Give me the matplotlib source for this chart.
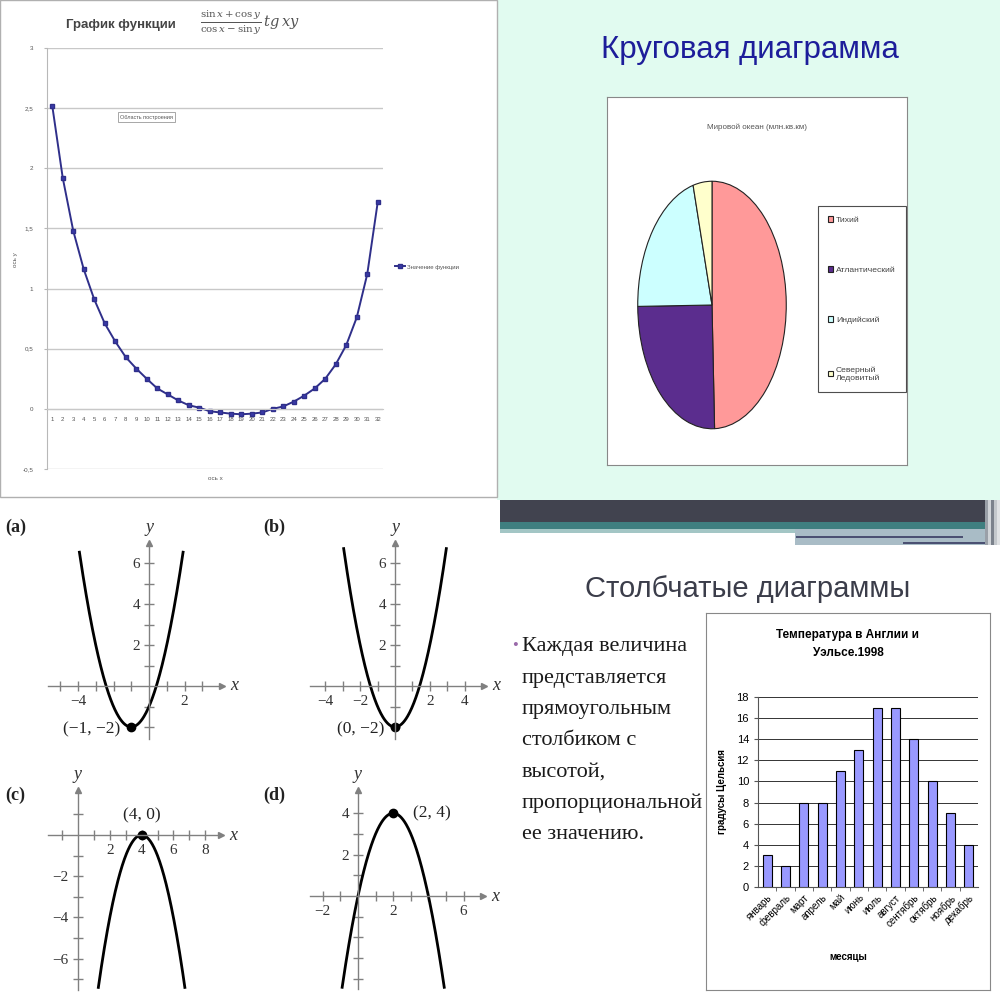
import numpy as np
import matplotlib.pyplot as plt
from matplotlib.patches import Rectangle
from matplotlib.lines import Line2D
from matplotlib.ticker import FixedLocator, FuncFormatter

# ---- data -------------------------------------------------------------
# top-left: "График функции" (Excel line chart, 32 points)
func_x = list(range(1, 33))
func_y = [2.52, 1.92, 1.48, 1.16, 0.91, 0.71, 0.56, 0.43, 0.335, 0.25,
          0.17, 0.12, 0.07, 0.03, 0.01, -0.02, -0.03, -0.04, -0.045, -0.04,
          -0.03, 0.0, 0.02, 0.06, 0.11, 0.17, 0.25, 0.37, 0.53, 0.76,
          1.12, 1.72]
func_yticks = [-0.5, 0, 0.5, 1, 1.5, 2, 2.5, 3]
func_yticklabels = ['-0,5', '0', '0,5', '1', '1,5', '2', '2,5', '3']

# top-right: pie "Мировой океан (млн.кв.км)"
ocean_names = ['Тихий', 'Атлантический', 'Индийский', 'Северный\nЛедовитый']
ocean_area = [178.7, 91.7, 76.2, 14.8]
ocean_colors = ['#ff9999', '#5b2d8e', '#ccffff', '#ffffcc']

# bottom-right: bar chart
months = ['январь', 'февраль', 'март', 'апрель', 'май', 'июнь', 'июль',
          'август', 'сентябрь', 'октябрь', 'ноябрь', 'декабрь']
temps = [3, 2, 8, 8, 11, 13, 17, 17, 14, 10, 7, 4]

# bottom-left: four parabolas y = lead * (x - vx)^2 + vy
par_names = ['(a)', '(b)', '(c)', '(d)']
par_vertex_x = [-1, 0, 4, 2]
par_vertex_y = [-2, -2, 0, 4]
par_lead = [1, 1, -1, -1]
par_half = [2.92, 2.95, 2.72, 2.9]
par_vertex_text = ['(−1, −2)', '(0, −2)', '(4, 0)', '(2, 4)']
par_xticklabels = [[-4, 2], [-4, -2, 2, 4], [2, 4, 6, 8], [-2, 2, 6]]
par_yticklabels = [[2, 4, 6], [2, 4, 6], [-6, -4, -2], [2, 4]]

bullet_lines = ['Каждая величина', 'представляется', 'прямоугольным',
                'столбиком с', 'высотой,', 'пропорциональной', 'ее значению.']

# ---- layout helpers (pixel coords, origin top-left) -------------------
W = H = 1000


def px_box(left, top, width, height):
    return [left / W, 1 - (top + height) / H, width / W, height / H]


def fx(x):
    return x / W


def fy(y):
    return 1 - y / H


fig = plt.figure(figsize=(10, 10), dpi=100)


def rect(left, top, width, height, **kw):
    fig.add_artist(Rectangle((fx(left), fy(top + height)), width / W, height / H,
                             transform=fig.transFigure, zorder=-10, **kw))


# backgrounds
rect(497, 0, 503, 500, color='#e1fbf0', lw=0)
rect(0, 0, 497, 497, facecolor='white', edgecolor='#b0b0b0', lw=1)
rect(500, 500, 500, 22, color='#41434f', lw=0)
rect(500, 522, 485, 7, color='#3f7f80', lw=0)
rect(500, 529, 295, 4, color='#a3c6c5', lw=0)
rect(795, 529, 195, 16, color='#a9bcc6', lw=0)
rect(796, 536, 167, 2, color='#4b5072', lw=0)
rect(903, 542, 87, 2, color='#4b5072', lw=0)
for i, c in enumerate(['#9aa0a8', '#d0d4d8', '#7c828c', '#c4c8cc', '#e0e2e4']):
    rect(985 + 3 * i, 500, 3, 45, color=c, lw=0)

# ---- top-left: function chart ----------------------------------------
sans = 'Liberation Sans'
ax1 = fig.add_axes(px_box(47, 48, 336, 421))
ax1.patch.set_alpha(0)
for s in ['top', 'right']:
    ax1.spines[s].set_visible(False)
ax1.spines['left'].set_color('#b8b8b8')
ax1.spines['bottom'].set_position(('data', 0))
ax1.spines['bottom'].set_color('#c8c8c8')
ax1.plot(func_x, func_y, color='#2f2f8a', lw=1.4, marker='s', ms=3.2,
         mfc='#3a3aa8', mec='#2f2f8a')
ax1.set_xlim(0.5, 32.5)
ax1.set_ylim(-0.5, 3)
ax1.set_yticks(func_yticks, func_yticklabels)
ax1.set_xticks(func_x, [str(v) for v in func_x])
ax1.tick_params(axis='x', length=0, pad=6, labelsize=4.3, labelcolor='#555555')
ax1.tick_params(axis='y', length=2, color='#b8b8b8', pad=8, labelsize=4.5,
                labelcolor='#555555')
for lab in ax1.get_xticklabels() + ax1.get_yticklabels():
    lab.set_family(sans)
ax1.grid(axis='y', color='#c8c8c8', lw=1)
ax1.set_axisbelow(True)
fig.text(fx(15), fy(260), 'ось y', rotation=90, fontsize=4.5, color='#555555',
         ha='center', va='center', family=sans)
fig.text(fx(215), fy(478), 'ось x', fontsize=4.5, color='#555555',
         ha='center', va='center', family=sans)
fig.text(fx(66), fy(25), 'График функции', fontsize=9.5, fontweight='bold',
         color='#444444', ha='left', va='center', family=sans)
fig.text(fx(200), fy(22), r'$\frac{\sin x + \cos y}{\cos x - \sin y}\,\mathit{tg}\,xy$',
         fontsize=10.5, color='#555555', ha='left', va='center',
         math_fontfamily='dejavuserif')
fig.text(fx(120), fy(117), 'Область построения', fontsize=4, color='#555555',
         ha='left', va='center', family=sans,
         bbox=dict(boxstyle='square,pad=0.4', fc='white', ec='#999999', lw=0.6))
fig.legend([Line2D([], [], color='#2f2f8a', lw=1.4, marker='s', ms=3.2, mfc='#3a3aa8')],
           ['Значение функции'], loc='center left',
           bbox_to_anchor=(fx(390), fy(267)), frameon=False,
           prop=dict(family=sans, size=4.3), handlelength=1.6, handletextpad=0.3,
           labelcolor='#555555')

# ---- top-right: pie slide ---------------------------------------------
fig.text(fx(750), fy(50), 'Круговая диаграмма', fontsize=22.5, color='#1d1d9a',
         ha='center', va='center', family=sans)
axp_frame = fig.add_axes(px_box(607, 97, 300, 368))
axp_frame.set_xticks([])
axp_frame.set_yticks([])
for s in axp_frame.spines.values():
    s.set_color('#888888')
fig.text(fx(757), fy(127), 'Мировой океан (млн.кв.км)', fontsize=5.8, color='#555555',
         ha='center', va='center', family=sans)
axp = fig.add_axes(px_box(637, 180, 150, 250))
wedges, _ = axp.pie(ocean_area, colors=ocean_colors, startangle=90, counterclock=False,
                    wedgeprops=dict(edgecolor='#222222', linewidth=0.8))
axp.set_aspect('auto')
axp.set_xlim(-1.01, 1.01)
axp.set_ylim(-1.01, 1.01)
leg = axp.legend(wedges, ocean_names, loc='upper left',
                 bbox_to_anchor=(fx(818), fy(206)), bbox_transform=fig.transFigure,
                 prop=dict(family=sans, size=6.1), labelspacing=5.0,
                 handlelength=0.6, handleheight=0.6, handletextpad=0.3,
                 borderpad=1.2, borderaxespad=0, fancybox=False, edgecolor='#222222',
                 labelcolor='#444444')
leg.get_frame().set_linewidth(0.8)

# ---- bottom-left: parabolas --------------------------------------------
serif = 'Liberation Serif'
par_origin = [(149, 686), (395, 686), (78, 835), (358, 896)]
par_unit = [(17.75, 20.5), (17.4, 20.5), (15.9, 20.6), (17.6, 20.7)]
par_xlim = [(-5.7, 4.1), (-4.9, 5.1), (-1.9, 9.0), (-2.7, 7.1)]
par_ylim = [(-2.6, 7.0), (-2.6, 7.0), (-7.5, 2.2), (-4.5, 5.1)]
par_label_pos = [(5, 527), (263, 527), (5, 795), (263, 795)]
par_text_off = [(-8, -2, 'right'), (-8, -2, 'right'), (0, 14, 'center'), (14, 0, 'left')]

for i in range(4):
    (ox, oy), (ux, uy) = par_origin[i], par_unit[i]
    x0, x1 = par_xlim[i]
    y0, y1 = par_ylim[i]
    ax = fig.add_axes(px_box(ox + x0 * ux, oy - y1 * uy, (x1 - x0) * ux, (y1 - y0) * uy))
    ax.patch.set_alpha(0)
    ax.set_xlim(x0, x1)
    ax.set_ylim(y0, y1)
    for s in ['top', 'right']:
        ax.spines[s].set_visible(False)
    for s in ['left', 'bottom']:
        ax.spines[s].set_position(('data', 0))
        ax.spines[s].set_color('#808080')
        ax.spines[s].set_linewidth(1)
    xt = [v for v in range(int(np.ceil(x0)), int(np.floor(x1 - 0.3)) + 1) if v != 0]
    yt = [v for v in range(int(np.ceil(y0)), int(np.floor(y1 - 0.3)) + 1) if v != 0]
    ax.xaxis.set_major_locator(FixedLocator(xt))
    ax.yaxis.set_major_locator(FixedLocator(yt))
    xl, yl = par_xticklabels[i], par_yticklabels[i]
    ax.xaxis.set_major_formatter(FuncFormatter(
        lambda v, p, xl=xl: str(int(round(v))).replace('-', '−') if int(round(v)) in xl else ''))
    ax.yaxis.set_major_formatter(FuncFormatter(
        lambda v, p, yl=yl: str(int(round(v))).replace('-', '−') if int(round(v)) in yl else ''))
    ax.tick_params(direction='inout', length=7, width=1, color='#808080',
                   labelsize=11, pad=3)
    for lab in ax.get_xticklabels() + ax.get_yticklabels():
        lab.set_family(serif)
        lab.set_color('#333333')
    ax.plot(1, 0, '>', ms=5, color='#808080', transform=ax.get_yaxis_transform(), clip_on=False)
    ax.plot(0, 1, '^', ms=5, color='#808080', transform=ax.get_xaxis_transform(), clip_on=False)
    ax.annotate('x', xy=(1, 0), xycoords=ax.get_yaxis_transform(), xytext=(6, 0),
                textcoords='offset points', va='center', ha='left', fontsize=13,
                style='italic', family=serif, color='#333333')
    ax.annotate('y', xy=(0, 1), xycoords=ax.get_xaxis_transform(), xytext=(0, 5),
                textcoords='offset points', va='bottom', ha='center', fontsize=13,
                style='italic', family=serif, color='#333333')
    vx, vy = par_vertex_x[i], par_vertex_y[i]
    xs = np.linspace(vx - par_half[i], vx + par_half[i], 200)
    ax.plot(xs, par_lead[i] * (xs - vx) ** 2 + vy, color='black', lw=2, clip_on=False)
    ax.plot(vx, vy, 'o', color='black', ms=6, clip_on=False)
    dx, dy, ha = par_text_off[i]
    ax.annotate(par_vertex_text[i], xy=(vx, vy), xytext=(dx, dy), textcoords='offset points',
                ha=ha, va='center', fontsize=12.5, family=serif, color='#222222')
    lx, ly = par_label_pos[i]
    fig.text(fx(lx), fy(ly), par_names[i], fontsize=13, fontweight='bold',
             family=serif, color='#222222', ha='left', va='center')

# ---- bottom-right: bar slide -------------------------------------------
fig.text(fx(748), fy(589), 'Столбчатые диаграммы', fontsize=21, color='#3b3d4a',
         ha='center', va='center', family=sans)
fig.text(fx(512), fy(646), '•', fontsize=12, color='#9a6aaa', ha='left', va='center',
         family=serif)
for k, line in enumerate(bullet_lines):
    fig.text(fx(522), fy(647 + 31.3 * k), line, fontsize=16, color='#1a1a1a',
             ha='left', va='center', family=serif)

axb_frame = fig.add_axes(px_box(706, 613, 284, 377))
axb_frame.set_xticks([])
axb_frame.set_yticks([])
for s in axb_frame.spines.values():
    s.set_color('#888888')
fig.text(fx(848), fy(644), 'Температура в Англии и\nУэльсе.1998', fontsize=8.5,
         fontweight='bold', ha='center', va='center', family=sans, linespacing=1.6)

axb = fig.add_axes(px_box(758, 697, 220, 190))
pos = np.arange(len(months))
axb.bar(pos, temps, width=0.5, color='#9999ff', edgecolor='black', lw=0.8, zorder=3)
axb.set_xlim(-0.5, len(months) - 0.5)
axb.set_ylim(0, 18)
axb.set_yticks(range(0, 19, 2))
axb.grid(axis='y', color='#333333', lw=0.7, zorder=0)
for s in ['top', 'right']:
    axb.spines[s].set_visible(False)
axb.spines['left'].set_color('#555555')
axb.spines['bottom'].set_color('#555555')
axb.set_xticks(pos)
axb.set_xticklabels(months, rotation=45, ha='right', rotation_mode='anchor',
                    fontsize=7, family=sans)
axb.set_xticks(pos[:-1] + 0.5, minor=True)
axb.tick_params(axis='x', which='major', length=0, pad=4)
axb.tick_params(axis='x', which='minor', length=3, color='#555555')
axb.tick_params(axis='y', labelsize=8, length=3, color='#555555')
for lab in axb.get_yticklabels():
    lab.set_family(sans)
axb.set_ylabel('градусы Цельсия', fontsize=7, fontweight='bold', family=sans, labelpad=7)
fig.text(fx(848), fy(957), 'месяцы', fontsize=7, fontweight='bold', family=sans,
         ha='center', va='center')

fig.savefig('out.png', dpi=100)
